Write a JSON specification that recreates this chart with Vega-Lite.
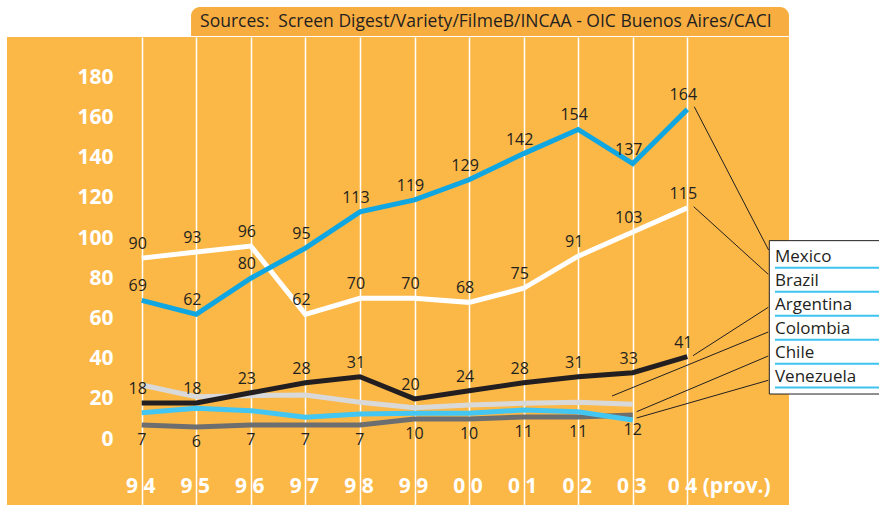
{
  "$schema": "https://vega.github.io/schema/vega-lite/v6.json",
  "width": 782,
  "height": 468,
  "autosize": {"type": "none"},
  "padding": {"left": 7, "top": 37, "right": 90, "bottom": 0},
  "background": "white",
  "config": {"view": {"fill": "#FBB847", "stroke": null}},
  "datasets": {
    "series": [
      {"country": "Chile", "year": 1994, "value": 7},
      {"country": "Chile", "year": 1995, "value": 6},
      {"country": "Chile", "year": 1996, "value": 7},
      {"country": "Chile", "year": 1997, "value": 7},
      {"country": "Chile", "year": 1998, "value": 7},
      {"country": "Chile", "year": 1999, "value": 10},
      {"country": "Chile", "year": 2000, "value": 10},
      {"country": "Chile", "year": 2001, "value": 11},
      {"country": "Chile", "year": 2002, "value": 11},
      {"country": "Chile", "year": 2003, "value": 12},
      {"country": "Colombia", "year": 1994, "value": 26.9},
      {"country": "Colombia", "year": 1995, "value": 21.1},
      {"country": "Colombia", "year": 1996, "value": 21.6},
      {"country": "Colombia", "year": 1997, "value": 21.9},
      {"country": "Colombia", "year": 1998, "value": 18.3},
      {"country": "Colombia", "year": 1999, "value": 15.6},
      {"country": "Colombia", "year": 2000, "value": 16.9},
      {"country": "Colombia", "year": 2001, "value": 17.8},
      {"country": "Colombia", "year": 2002, "value": 18.3},
      {"country": "Colombia", "year": 2003, "value": 17.3},
      {"country": "Venezuela", "year": 1994, "value": 13.1},
      {"country": "Venezuela", "year": 1995, "value": 15.3},
      {"country": "Venezuela", "year": 1996, "value": 14.1},
      {"country": "Venezuela", "year": 1997, "value": 10.8},
      {"country": "Venezuela", "year": 1998, "value": 12.5},
      {"country": "Venezuela", "year": 1999, "value": 12.8},
      {"country": "Venezuela", "year": 2000, "value": 12.8},
      {"country": "Venezuela", "year": 2001, "value": 14.5},
      {"country": "Venezuela", "year": 2002, "value": 13.6},
      {"country": "Venezuela", "year": 2003, "value": 9.5},
      {"country": "Argentina", "year": 1994, "value": 18},
      {"country": "Argentina", "year": 1995, "value": 18},
      {"country": "Argentina", "year": 1996, "value": 23},
      {"country": "Argentina", "year": 1997, "value": 28},
      {"country": "Argentina", "year": 1998, "value": 31},
      {"country": "Argentina", "year": 1999, "value": 20},
      {"country": "Argentina", "year": 2000, "value": 24},
      {"country": "Argentina", "year": 2001, "value": 28},
      {"country": "Argentina", "year": 2002, "value": 31},
      {"country": "Argentina", "year": 2003, "value": 33},
      {"country": "Argentina", "year": 2004, "value": 41},
      {"country": "Brazil", "year": 1994, "value": 90},
      {"country": "Brazil", "year": 1995, "value": 93},
      {"country": "Brazil", "year": 1996, "value": 96},
      {"country": "Brazil", "year": 1997, "value": 62},
      {"country": "Brazil", "year": 1998, "value": 70},
      {"country": "Brazil", "year": 1999, "value": 70},
      {"country": "Brazil", "year": 2000, "value": 68},
      {"country": "Brazil", "year": 2001, "value": 75},
      {"country": "Brazil", "year": 2002, "value": 91},
      {"country": "Brazil", "year": 2003, "value": 103},
      {"country": "Brazil", "year": 2004, "value": 115},
      {"country": "Mexico", "year": 1994, "value": 69},
      {"country": "Mexico", "year": 1995, "value": 62},
      {"country": "Mexico", "year": 1996, "value": 80},
      {"country": "Mexico", "year": 1997, "value": 95},
      {"country": "Mexico", "year": 1998, "value": 113},
      {"country": "Mexico", "year": 1999, "value": 119},
      {"country": "Mexico", "year": 2000, "value": 129},
      {"country": "Mexico", "year": 2001, "value": 142},
      {"country": "Mexico", "year": 2002, "value": 154},
      {"country": "Mexico", "year": 2003, "value": 137},
      {"country": "Mexico", "year": 2004, "value": 164}
    ],
    "legend": [
      {"country": "Mexico", "ty": 90.7, "uy": 85.2, "lx": 2004.128, "lv": 165.3, "ex": 2005.49, "ev": 94.05},
      {"country": "Brazil", "ty": 78.8, "uy": 73.3, "lx": 2004.117, "lv": 115.6, "ex": 2005.484, "ev": 81.96},
      {"country": "Argentina", "ty": 66.8, "uy": 61.4, "lx": 2004.104, "lv": 41.47, "ex": 2005.484, "ev": 65.54},
      {"country": "Colombia", "ty": 54.9, "uy": 49.4, "lx": 2002.62, "lv": 21.42, "ex": 2005.484, "ev": 53.26},
      {"country": "Chile", "ty": 43.0, "uy": 37.5, "lx": 2003.072, "lv": 13.61, "ex": 2005.484, "ev": 41.32},
      {"country": "Venezuela", "ty": 31.0, "uy": 25.6, "lx": 2003.072, "lv": 10.48, "ex": 2005.484, "ev": 29.23}
    ],
    "box": [{"x": 2005.503, "x2": 2007.9, "y": 98.7, "y2": 22.4}],
    "title": [{"text": "Sources:\u00a0 Screen Digest/Variety/FilmeB/INCAA - OIC Buenos Aires/CACI", "x": 1994.904, "x2": 2005.864, "tx": 1995.07, "y": 200.5, "y2": 214.9, "ty": 204.8}]
  },
  "layer": [
    {
      "data": {"name": "series"},
      "mark": {"type": "line", "strokeWidth": 5, "strokeJoin": "miter", "strokeCap": "butt"},
      "encoding": {
        "x": {
          "field": "year", "type": "quantitative",
          "scale": {"domain": [1991.531, 2005.864], "nice": false, "zero": false},
          "axis": {
            "title": null, "values": [1994, 1995, 1996, 1997, 1998, 1999, 2000, 2001, 2002, 2003, 2004],
            "orient": "bottom", "offset": -13, "domain": false, "ticks": false, "tickSize": 0,
            "grid": true, "gridColor": "white", "gridWidth": 1.5, "gridOpacity": 1,
            "labelExpr": "datum.value == 2004 ? '0 4 (prov.)' : substring('' + datum.value, 2, 3) + ' ' + substring('' + datum.value, 3, 4)",
            "labelFont": "Open Sans", "labelFontWeight": "bold", "labelFontSize": 21, "labelColor": "white",
            "labelBaseline": "alphabetic", "labelPadding": 0,
            "labelAlign": {"condition": {"test": "datum.value == 2004", "value": "left"}, "value": "center"},
            "labelOffset": {"condition": {"test": "datum.value == 2004", "value": -20}, "value": -1.5},
            "labelOverlap": false, "labelBound": false, "labelFlush": false
          }
        },
        "y": {
          "field": "value", "type": "quantitative",
          "scale": {"domain": [-32.8, 200], "nice": false, "zero": false},
          "axis": {
            "title": null, "values": [0, 20, 40, 60, 80, 100, 120, 140, 160, 180],
            "orient": "left", "offset": -106, "domain": false, "ticks": false, "tickSize": 0, "grid": false,
            "labelFont": "Open Sans", "labelFontWeight": "bold", "labelFontSize": 21, "labelColor": "white",
            "labelPadding": 0, "labelAlign": "right", "labelBaseline": "middle", "labelOverlap": false
          }
        },
        "color": {
          "field": "country", "type": "nominal",
          "scale": {
            "domain": ["Mexico", "Brazil", "Argentina", "Colombia", "Chile", "Venezuela"],
            "range": ["#10A6E1", "#FFFFFF", "#231F20", "#D9D9D9", "#6D6E70", "#43C6F1"]
          },
          "legend": null
        }
      }
    },
    {
      "data": {"name": "series"},
      "transform": [{"filter": {"field": "country", "oneOf": ["Mexico", "Brazil", "Argentina"]}}],
      "mark": {"type": "text", "font": "Open Sans", "fontSize": 16, "color": "#231F20", "dx": -4, "dy": -14, "baseline": "middle", "align": "center"},
      "encoding": {
        "x": {"field": "year", "type": "quantitative"},
        "y": {"field": "value", "type": "quantitative"},
        "text": {"field": "value", "type": "quantitative"}
      }
    },
    {
      "data": {"name": "series"},
      "transform": [{"filter": {"field": "country", "equal": "Chile"}}],
      "mark": {"type": "text", "font": "Open Sans", "fontSize": 16, "color": "#231F20", "dx": 0, "dy": 15, "baseline": "middle", "align": "center"},
      "encoding": {
        "x": {"field": "year", "type": "quantitative"},
        "y": {"field": "value", "type": "quantitative"},
        "text": {"field": "value", "type": "quantitative"}
      }
    },
    {
      "data": {"name": "legend"},
      "mark": {"type": "rule", "color": "#231F20", "strokeWidth": 1},
      "encoding": {
        "x": {"field": "lx", "type": "quantitative"},
        "y": {"field": "lv", "type": "quantitative"},
        "x2": {"field": "ex"},
        "y2": {"field": "ev"}
      }
    },
    {
      "data": {"name": "box"},
      "mark": {"type": "rect", "fill": "white", "stroke": "#231F20", "strokeWidth": 1},
      "encoding": {
        "x": {"field": "x", "type": "quantitative"},
        "x2": {"field": "x2"},
        "y": {"field": "y", "type": "quantitative"},
        "y2": {"field": "y2"}
      }
    },
    {
      "data": {"name": "legend"},
      "mark": {"type": "rule", "color": "#3EC3F0", "strokeWidth": 2},
      "encoding": {
        "x": {"datum": 2005.607, "type": "quantitative"},
        "x2": {"datum": 2007.9},
        "y": {"field": "uy", "type": "quantitative"}
      }
    },
    {
      "data": {"name": "legend"},
      "mark": {"type": "text", "font": "Open Sans", "fontSize": 17, "color": "#231F20", "align": "left", "baseline": "middle"},
      "encoding": {
        "x": {"datum": 2005.607, "type": "quantitative"},
        "y": {"field": "ty", "type": "quantitative"},
        "text": {"field": "country"}
      }
    },
    {
      "data": {"name": "title"},
      "mark": {"type": "rect", "fill": "#F8AD40", "cornerRadiusTopLeft": 9, "cornerRadiusTopRight": 9},
      "encoding": {
        "x": {"field": "x", "type": "quantitative"},
        "x2": {"field": "x2"},
        "y": {"field": "y", "type": "quantitative"},
        "y2": {"field": "y2"}
      }
    },
    {
      "data": {"name": "title"},
      "mark": {"type": "text", "font": "Open Sans", "fontSize": 17.5, "color": "#231F20", "align": "left", "baseline": "alphabetic"},
      "encoding": {
        "x": {"field": "tx", "type": "quantitative"},
        "y": {"field": "ty", "type": "quantitative"},
        "text": {"field": "text"}
      }
    }
  ]
}
